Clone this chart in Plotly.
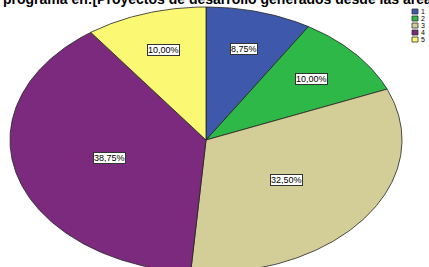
import numpy as np
import plotly.graph_objects as go

categories = ["1", "2", "3", "4", "5"]
percentages = [8.75, 10.00, 32.50, 38.75, 10.00]
colors = ["#3e58ac", "#2eb848", "#d3ce97", "#7b2a7d", "#fbf873"]
title_text = "programa en:[Proyectos de desarrollo generados desde las areas]"

W, H = 429, 267
cx_px, cy_px, rx_px, ry_px = 206, 140, 196, 133

fig = go.Figure()
total = sum(percentages)
start = 0.0
for cat, val, col in zip(categories, percentages, colors):
    a0 = start / total * 2 * np.pi
    a1 = (start + val) / total * 2 * np.pi
    t = np.linspace(a0, a1, max(int((a1 - a0) * 80), 4))
    xs = np.concatenate([[0], np.sin(t), [0]])
    ys = np.concatenate([[0], np.cos(t), [0]])
    fig.add_trace(go.Scatter(x=xs, y=ys, fill="toself", fillcolor=col, mode="lines",
                             line=dict(color="#222222", width=0.8), name=cat,
                             hoverinfo="skip", showlegend=False))
    mid = (a0 + a1) / 2
    r = 0.71 if val / total < 0.2 else 0.51
    fig.add_annotation(x=r * np.sin(mid), y=r * np.cos(mid),
                       text=f"{val:.2f}%".replace(".", ","), showarrow=False,
                       font=dict(family="Liberation Sans, Arial", size=9, color="black"),
                       bgcolor="white", bordercolor="#333333", borderwidth=1, borderpad=0)
    start += val

# legend drawn manually
for i, (cat, col) in enumerate(zip(categories, colors)):
    top = 9 + 7 * i
    fig.add_shape(type="rect", xref="paper", yref="paper",
                  x0=412 / W, x1=418 / W, y0=1 - (top + 5) / H, y1=1 - top / H,
                  fillcolor=col, line=dict(color="#333333", width=0.8))
    fig.add_annotation(xref="paper", yref="paper", x=419.5 / W, y=1 - (top + 2.5) / H,
                       xanchor="left", yanchor="middle", text=cat, showarrow=False,
                       font=dict(family="Liberation Sans, Arial", size=7, color="black"),
                       borderpad=0)

fig.add_annotation(xref="paper", yref="paper", x=2 / W, y=1 - 8 / H, xanchor="left",
                   yanchor="bottom", text=f"<b>{title_text}</b>", showarrow=False,
                   font=dict(family="Liberation Sans, Arial", size=14, color="black"),
                   borderpad=0)

fig.update_xaxes(range=[-cx_px / rx_px, (W - cx_px) / rx_px], visible=False, fixedrange=True)
fig.update_yaxes(range=[-(H - cy_px) / ry_px, cy_px / ry_px], visible=False, fixedrange=True)
fig.update_layout(width=W, height=H, margin=dict(l=0, r=0, t=0, b=0),
                  plot_bgcolor="white", paper_bgcolor="white", showlegend=False)
fig.write_html("out.html", config={"displayModeBar": False},
               post_script="document.body.style.margin='0';document.body.style.overflow='hidden';")
